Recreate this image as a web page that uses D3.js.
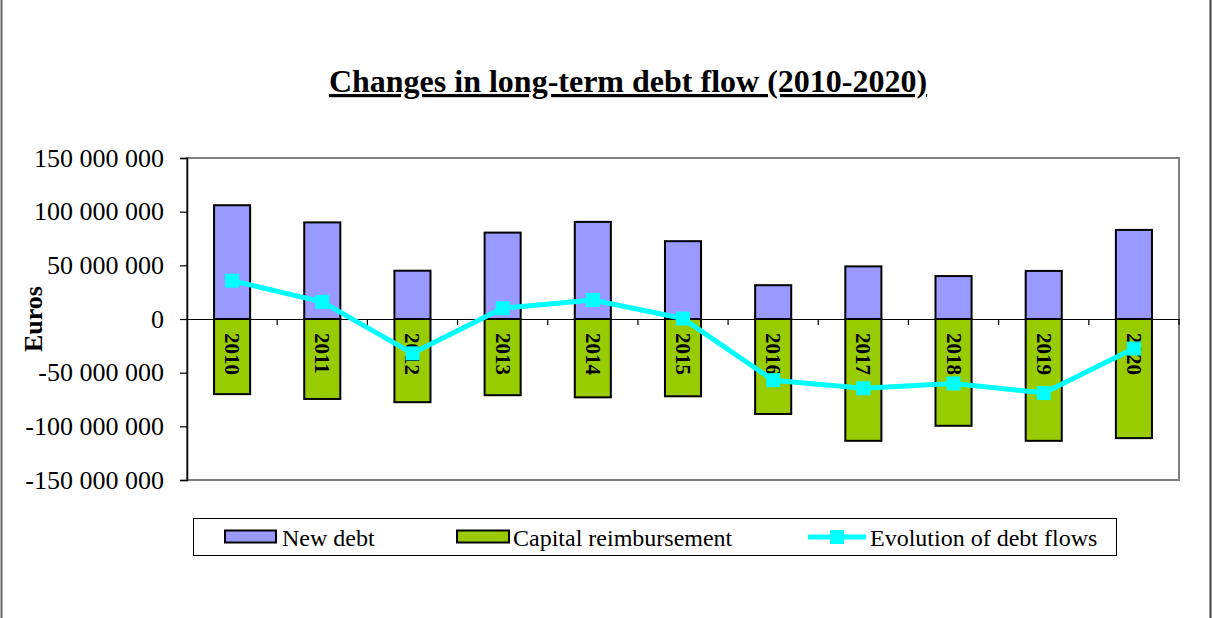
<!DOCTYPE html>
<html>
<head>
<meta charset="utf-8">
<script src="https://cdn.jsdelivr.net/npm/d3@7"></script>
<style>
  html, body { margin: 0; padding: 0; background: #fff; }
  svg { display: block; }
  text { font-family: "Liberation Serif", "Times New Roman", serif; }
</style>
</head>
<body>
<svg id="chart" width="1212" height="618"></svg>
<script>
// ---- data (euros) ----
const years = ["2010","2011","2012","2013","2014","2015","2016","2017","2018","2019","2020"];
const newDebt = [106000000, 90000000, 45000000, 80500000, 90500000, 72500000, 31500000, 49000000, 40000000, 44800000, 83000000];
const capitalReimbursement = [-70000000, -74500000, -77500000, -71000000, -73000000, -72000000, -88500000, -113500000, -99500000, -113500000, -111000000];
const evolution = [35700000, 16000000, -32000000, 10000000, 17700000, 400000, -57000000, -64500000, -60000000, -69000000, -27500000];
const yTicks = [-150000000, -100000000, -50000000, 0, 50000000, 100000000, 150000000];
const seriesNames = ["New debt", "Capital reimbursement", "Evolution of debt flows"];
const title = "Changes in long-term debt flow (2010-2020)";
const yTitle = "Euros";

// ---- layout ----
const svg = d3.select("#chart");
const W = 1212, H = 618;
const plot = { left: 187, right: 1179, top: 158, bottom: 480 };
const colNew = "#9999FF", colCap = "#99CC00", colLine = "#00FFFF";

const x = d3.scaleBand().domain(years).range([plot.left, plot.right]).paddingInner(0.6).paddingOuter(0.3);
const step = x.step();
const y = d3.scaleLinear().domain([-150000000, 150000000]).range([plot.bottom, plot.top]);

const loc = d3.formatLocale({ decimal: ".", thousands: " ", grouping: [3], currency: ["", ""], minus: "-" });
const fmt = loc.format(",d");

// outer chart frame (left/right edges)
svg.append("line").attr("x1", 1.5).attr("x2", 1.5).attr("y1", 0).attr("y2", H).attr("stroke", "#666").attr("stroke-width", 2);
svg.append("line").attr("x1", 1210.5).attr("x2", 1210.5).attr("y1", 0).attr("y2", H).attr("stroke", "#444").attr("stroke-width", 2);

// title
svg.append("text").attr("x", 628).attr("y", 92).attr("text-anchor", "middle")
  .attr("font-size", 32).attr("font-weight", "bold").attr("text-decoration", "underline")
  .text(title);

// plot frame (gray)
svg.append("rect").attr("x", plot.left).attr("y", plot.top)
  .attr("width", plot.right - plot.left).attr("height", plot.bottom - plot.top)
  .attr("fill", "none").attr("stroke", "#808080").attr("stroke-width", 2);

// y axis
const yAxis = d3.axisLeft(y).tickValues(yTicks).tickFormat(fmt).tickSize(7).tickPadding(16);
const gy = svg.append("g").attr("transform", `translate(${plot.left},0)`).call(yAxis);
gy.select(".domain").attr("stroke", "#000").attr("stroke-width", 1.5);
gy.selectAll(".tick line").attr("stroke", "#000").attr("stroke-width", 1.2);
gy.selectAll(".tick text").attr("font-size", 26).attr("fill", "#000")
  .attr("font-family", '"Liberation Serif", "Times New Roman", serif');

// y title
svg.append("text").attr("transform", `translate(42,${y(0)}) rotate(-90)`)
  .attr("text-anchor", "middle").attr("font-size", 26).attr("font-weight", "bold").text(yTitle);

// bars
const bw = x.bandwidth();
svg.append("g").selectAll("rect").data(years).join("rect")
  .attr("x", d => x(d)).attr("width", bw)
  .attr("y", (d, i) => y(newDebt[i])).attr("height", (d, i) => y(0) - y(newDebt[i]))
  .attr("fill", colNew).attr("stroke", "#000").attr("stroke-width", 2);
svg.append("g").selectAll("rect").data(years).join("rect")
  .attr("x", d => x(d)).attr("width", bw)
  .attr("y", y(0)).attr("height", (d, i) => y(capitalReimbursement[i]) - y(0))
  .attr("fill", colCap).attr("stroke", "#000").attr("stroke-width", 2);

// category labels inside bars
svg.append("g").selectAll("text").data(years).join("text")
  .attr("transform", d => `translate(${x(d) + bw / 2},${y(0) + 14}) rotate(90)`)
  .attr("dominant-baseline", "central").attr("text-anchor", "start")
  .attr("font-size", 21).attr("font-weight", "bold").text(d => d);

// zero axis with category-boundary ticks
const xAxis = d3.axisBottom(x).tickSize(0).tickFormat("");
const gx = svg.append("g").attr("transform", `translate(0,${y(0)})`).call(xAxis);
gx.select(".domain").attr("stroke", "#000").attr("stroke-width", 1.2);
gx.selectAll(".tick").remove();
const bounds = d3.range(1, years.length + 1).map(i => plot.left + i * step);
gx.selectAll("line.bt").data(bounds).join("line").attr("class", "bt")
  .attr("x1", d => d).attr("x2", d => d).attr("y1", 0).attr("y2", 6)
  .attr("stroke", "#000").attr("stroke-width", 1.2);

// evolution line
const line = d3.line().x((d, i) => x(years[i]) + bw / 2).y(d => y(d));
svg.append("path").datum(evolution).attr("d", line)
  .attr("fill", "none").attr("stroke", colLine).attr("stroke-width", 5).attr("stroke-linejoin", "round");
const ms = 14;
svg.append("g").selectAll("rect").data(evolution).join("rect")
  .attr("x", (d, i) => x(years[i]) + bw / 2 - ms / 2).attr("y", d => y(d) - ms / 2)
  .attr("width", ms).attr("height", ms).attr("fill", colLine);

// legend
const lg = svg.append("g");
lg.append("rect").attr("x", 193.5).attr("y", 518.5).attr("width", 923).attr("height", 37)
  .attr("fill", "#fff").attr("stroke", "#000").attr("stroke-width", 1);
const ly = 537;
lg.append("rect").attr("x", 225).attr("y", 530.5).attr("width", 51).attr("height", 12)
  .attr("fill", colNew).attr("stroke", "#000").attr("stroke-width", 2);
lg.append("text").attr("x", 282).attr("y", 546).attr("font-size", 24).text(seriesNames[0]);
lg.append("rect").attr("x", 457).attr("y", 530.5).attr("width", 52).attr("height", 12)
  .attr("fill", colCap).attr("stroke", "#000").attr("stroke-width", 2);
lg.append("text").attr("x", 513).attr("y", 546).attr("font-size", 24).text(seriesNames[1]);
lg.append("line").attr("x1", 808).attr("x2", 866).attr("y1", ly).attr("y2", ly)
  .attr("stroke", colLine).attr("stroke-width", 5);
lg.append("rect").attr("x", 837 - ms / 2).attr("y", ly - ms / 2).attr("width", ms).attr("height", ms).attr("fill", colLine);
lg.append("text").attr("x", 870).attr("y", 546).attr("font-size", 24).text(seriesNames[2]);
</script>
</body>
</html>
